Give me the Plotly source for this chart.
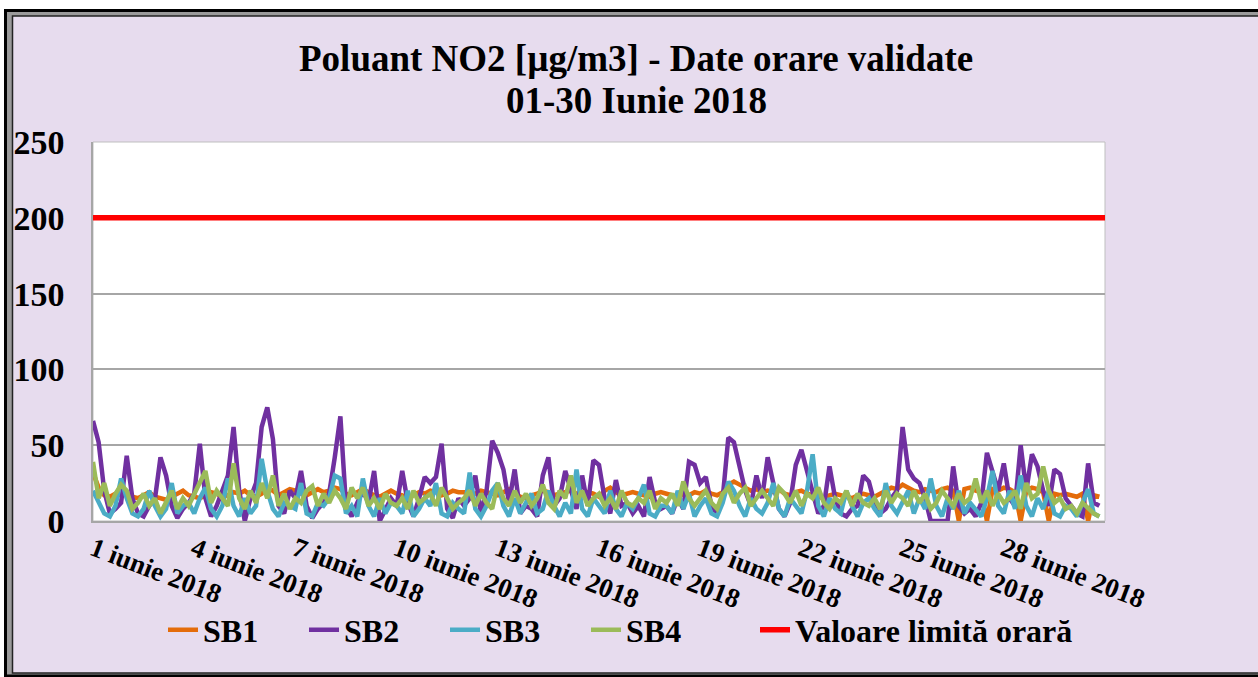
import pandas as pd
import plotly.graph_objects as go

# ---- data (4-hour resolution, 6 per day) ----
sb1 = [32,22,17,16,18,17, 18,16,15,17,19,16, 15,14,16,18,20,17, 16,15,17,19,18,16,
       17,19,18,20,17,16, 18,22,20,17,19,21, 20,18,17,19,21,19, 20,22,21,18,17,19,
       21,19,17,16,18,20, 18,17,15,17,19,18, 20,19,17,18,20,19, 19,17,18,20,19,18,
       17,19,21,18,16,15, 17,18,20,19,17,18, 19,20,18,17,19,18, 16,20,22,19,17,18,
       19,18,17,16,18,19, 18,17,16,18,17,19, 18,20,18,17,19,24, 26,24,22,20,21,19,
       20,19,21,18,17,19, 20,18,17,16,15,17, 18,17,16,15,17,18, 17,16,18,20,22,21,
       24,22,20,19,21,20, 19,21,22,20,0,21, 22,20,19,0,21,20, 22,21,19,0,20,22,
       21,19,0,18,17,18, 17,16,18,0,17,16]
sb2 = [66,52,20,5,8,12, 43,15,5,3,10,14, 42,30,10,2,8,12, 18,51,15,3,10,20,
       30,62,20,0,15,25, 62,75,54,10,5,20, 15,33,10,2,8,12, 18,42,69,10,3,12,
       20,12,33,0,8,15, 10,33,12,3,15,29, 25,29,51,8,2,15, 10,15,30,5,20,53,
       45,34,12,34,5,10, 8,3,30,42,10,15, 33,20,8,30,10,40, 37,15,5,27,10,12,
       5,10,3,29,12,8, 10,5,15,8,39,37, 25,29,10,5,15,55, 52,36,20,10,30,15,
       42,25,8,3,12,37, 47,33,20,5,10,36, 15,5,3,8,10,30, 26,12,5,8,15,20,
       62,34,28,25,15,0, 0,0,0,36,10,5, 8,3,12,45,32,20, 38,15,10,50,20,44,
       36,20,10,34,31,15, 10,5,3,38,12,10]
sb3 = [20,12,5,3,10,28, 15,5,3,8,20,10, 3,8,25,5,10,12, 5,15,22,8,3,10,
       28,10,3,15,5,10, 41,20,8,3,12,10, 8,25,5,3,12,10, 15,30,28,5,10,3,
       28,10,3,15,5,12, 10,5,20,3,8,15, 10,25,5,3,12,8, 5,32,8,3,10,20,
       25,10,3,15,5,12, 18,5,8,20,10,3, 12,5,34,8,3,15, 10,5,20,8,3,12,
       8,15,24,5,3,10, 10,5,20,8,18,3, 10,15,5,3,12,26, 20,10,3,15,8,5,
       12,25,8,3,15,10, 5,20,44,10,3,15, 8,5,20,10,3,12, 15,8,3,25,10,5,
       12,20,5,15,8,28, 10,3,15,8,20,5, 12,8,3,15,33,10, 5,20,8,30,10,3,
       15,8,20,5,3,10, 8,3,12,21,5,3]
sb4 = [39,15,25,10,18,24, 20,8,12,18,10,15, 5,12,20,8,15,10, 18,25,33,12,20,15,
       10,38,15,8,20,12, 25,15,30,10,18,8, 15,12,20,23,10,18, 12,20,15,8,22,15,
       22,10,15,8,18,12, 10,15,8,20,12,15, 18,10,22,15,8,12, 15,20,10,18,12,8,
       25,15,10,20,12,18, 10,15,24,12,8,20, 15,30,12,20,10,15, 18,10,15,8,20,12,
       10,15,12,20,8,15, 12,18,10,26,15,10, 15,20,12,8,18,22, 12,18,22,10,15,20,
       15,10,22,18,12,20, 10,18,15,22,12,8, 15,12,20,10,18,12, 10,15,8,20,12,18,
       15,10,20,12,18,8, 12,20,15,10,18,12, 15,28,12,20,10,18, 12,15,20,8,25,15,
       18,36,20,12,15,8, 10,5,12,8,5,3]
limit_value = 200
series_names = ["SB1", "SB2", "SB3", "SB4"]
limit_name = "Valoare limită orară"
tick_days = [1, 4, 7, 10, 13, 16, 19, 22, 25, 28]
tick_labels = [f"{d} iunie 2018" for d in tick_days]
y_ticks = [0, 50, 100, 150, 200, 250]

times = pd.date_range("2018-06-01", periods=len(sb1), freq="4h")

colors = ["#E46C0A", "#7030A0", "#4BACC6", "#9BBB59"]
FONT = "Liberation Serif"

# ---- layout geometry (pixels) ----
W, H = 1258, 677
L, R, T, B = 93, 1105, 142, 521


def px(x):
    return (x - L) / (R - L)


def py(y):
    return (B - y) / (B - T)


fig = go.Figure()
for name, vals, c in zip(series_names, [sb1, sb2, sb3, sb4], colors):
    fig.add_trace(go.Scatter(x=times, y=vals, mode="lines", name=name,
                             line=dict(color=c, width=4.5), legend="legend"))
fig.add_trace(go.Scatter(x=[pd.Timestamp("2018-06-01"), pd.Timestamp("2018-07-01")],
                         y=[limit_value, limit_value], mode="lines",
                         name=limit_name, legend="legend2",
                         line=dict(color="#FF0000", width=5.5)))

shapes = [
    dict(type="rect", xref="paper", yref="paper", layer="below",
         x0=px(5.5), x1=px(1275), y0=py(676), y1=py(10.5),
         line=dict(color="black", width=3), fillcolor="#9A9A9A"),
    dict(type="rect", xref="paper", yref="paper", layer="below",
         x0=px(12.5), x1=px(1275), y0=py(673), y1=py(16),
         line=dict(color="#222222", width=1.5), fillcolor="#E7DCEE"),
    dict(type="rect", xref="paper", yref="paper", layer="below",
         x0=0, x1=1, y0=0, y1=1,
         line=dict(color="#BFBFBF", width=1), fillcolor="white"),
]

legend_font = dict(family=FONT, size=32, color="black", weight="bold")

fig.update_layout(
    width=W, height=H,
    margin=dict(l=L, r=W - R, t=T, b=H - B),
    paper_bgcolor="white", plot_bgcolor="rgba(0,0,0,0)",
    font=dict(family=FONT, color="black"),
    shapes=shapes,
    showlegend=True,
    legend=dict(orientation="h", x=px(163), xanchor="left", y=py(630), yanchor="middle",
                font=legend_font, bgcolor="rgba(0,0,0,0)",
                entrywidth=96, entrywidthmode="pixels"),
    legend2=dict(orientation="h", x=px(755), xanchor="left", y=py(630), yanchor="middle",
                 font=legend_font, bgcolor="rgba(0,0,0,0)"),
    annotations=[
        dict(text="<b>Poluant NO2 [µg/m3] - Date orare validate</b>",
             xref="paper", yref="paper", x=px(636), y=py(58),
             xanchor="center", yanchor="middle", showarrow=False,
             font=dict(family=FONT, size=37, color="black")),
        dict(text="<b>01-30 Iunie 2018</b>",
             xref="paper", yref="paper", x=px(636), y=py(100),
             xanchor="center", yanchor="middle", showarrow=False,
             font=dict(family=FONT, size=37, color="black")),
    ],
)
fig.update_xaxes(range=[pd.Timestamp("2018-06-01"), pd.Timestamp("2018-07-01")],
                 tickvals=[pd.Timestamp(2018, 6, d) for d in tick_days],
                 ticktext=tick_labels, tickangle=21,
                 tickfont=dict(family=FONT, size=27, color="black", weight="bold"),
                 showgrid=False, showline=True, linecolor="#A6A6A6", linewidth=1.5,
                 ticks="", zeroline=False)
fig.update_yaxes(range=[0, 250], tickvals=y_ticks,
                 tickfont=dict(family=FONT, size=34, color="black", weight="bold"),
                 ticklabelstandoff=20,
                 showgrid=True, gridcolor="#A6A6A6", gridwidth=1.5,
                 showline=True, linecolor="#A6A6A6", linewidth=1.5,
                 zeroline=False, ticks="")

fig.write_html("out.html", config={"displayModeBar": False},
               post_script="document.body.style.margin='0';document.body.style.overflow='hidden';")
